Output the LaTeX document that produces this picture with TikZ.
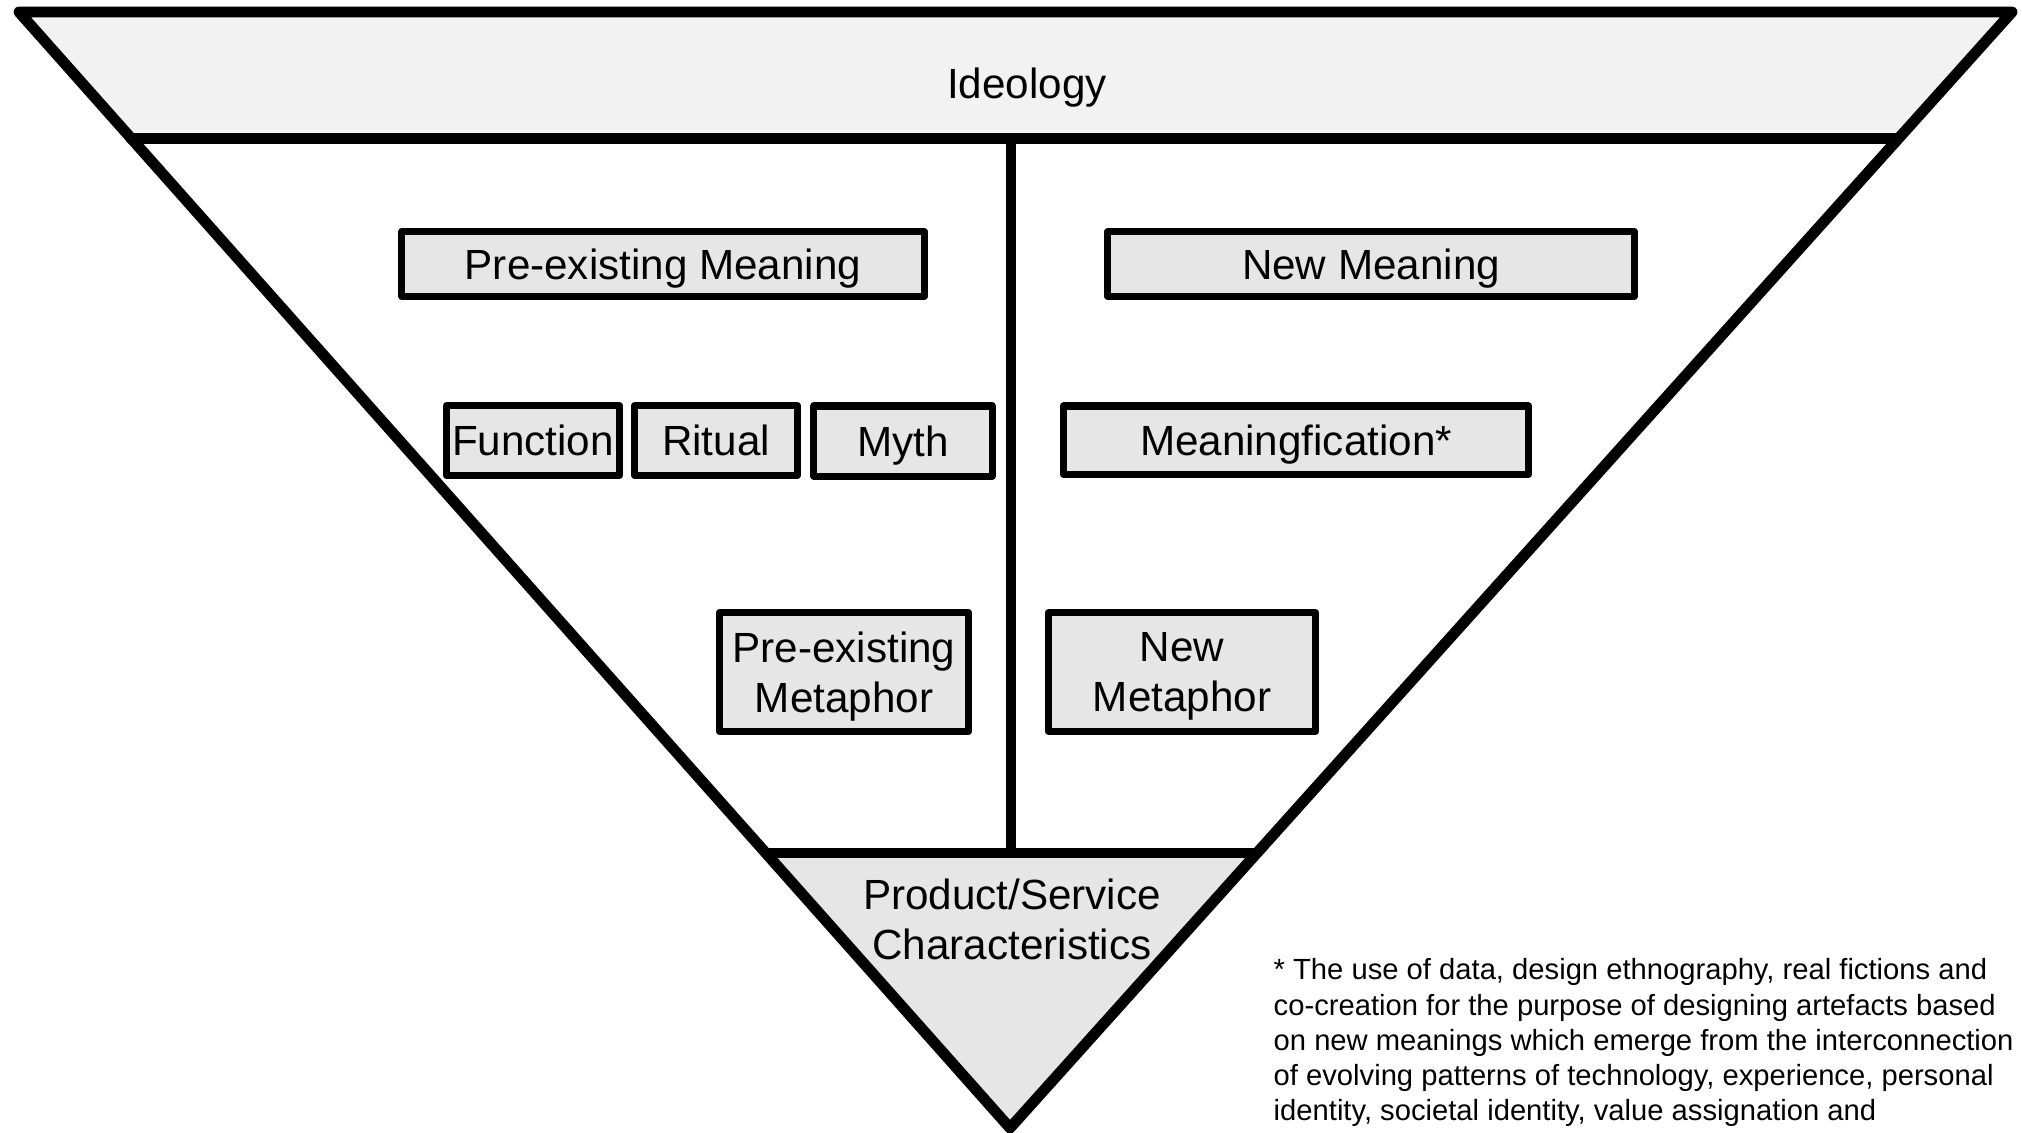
\documentclass[tikz,border=0pt]{standalone}
\usepackage{fontspec}
\setmainfont{Liberation Sans}
\definecolor{bandgray}{HTML}{F2F2F2}
\definecolor{boxgray}{HTML}{E6E6E6}
\begin{document}
\begin{tikzpicture}[x=0.01cm,y=-0.01cm,
  box/.style={draw, line width=2pt, line join=round, fill=boxgray, inner sep=0pt, align=center, text depth=0pt, font=\fontsize{12}{14.2}\selectfont},
  onebox/.style={box, text height=8.6pt},
  edge/.style={line width=3.1pt, line join=round, line cap=round}]
\useasboundingbox (0,0) rectangle (2022,1132);
\coordinate (tl) at (19,12);
\coordinate (tr) at (2012,12);
\coordinate (apex) at (1010,1128);
\coordinate (bandl) at (131,138.5);
\coordinate (bandr) at (1898,138.5);
\coordinate (basel) at (766,853);
\coordinate (baser) at (1257,853);
\coordinate (vtop) at (1011,138.5);
\coordinate (vbot) at (1011,853);
\fill[bandgray] (tl) -- (tr) -- (bandr) -- (bandl) -- cycle;
\fill[boxgray] (basel) -- (baser) -- (apex) -- cycle;
\draw[edge] (tl) -- (tr) -- (apex) -- cycle;
\draw[edge] (bandl) -- (bandr);
\draw[line width=2.8pt] (vtop) -- (vbot);
\draw[line width=2.8pt] (basel) -- (baser);
\node[text height=8.6pt, text depth=0pt, font=\fontsize{12}{14.2}\selectfont] (ideo) at (1027,83) {Ideology};
\node[onebox, minimum width=5.22cm, minimum height=0.65cm] (pmean) at (663,264) {Pre-existing Meaning};
\node[onebox, minimum width=5.26cm, minimum height=0.65cm] (nmean) at (1371,264) {New Meaning};
\node[onebox, minimum width=1.73cm, minimum height=0.70cm] (func) at (533,440.5) {Function};
\node[onebox, minimum width=1.62cm, minimum height=0.70cm] (rit) at (716,440.5) {Ritual};
\node[onebox, minimum width=1.78cm, minimum height=0.70cm] (myth) at (903,441) {Myth};
\node[onebox, minimum width=4.65cm, minimum height=0.68cm] (mfic) at (1296,440) {Meaningfication*};
\node[box, minimum width=2.49cm, minimum height=1.19cm] (pmeta) at (844,672) {Pre-existing\\Metaphor};
\node[box, minimum width=2.67cm, minimum height=1.19cm] (nmeta) at (1182,672) {New\\Metaphor};
\node[align=center, text depth=0pt, font=\fontsize{12}{14.2}\selectfont] (prod) at (1012,919) {Product/Service\\Characteristics};
\node[anchor=north west, inner sep=0pt, align=left, font=\fontsize{8.3}{10}\selectfont] (note) at (1273,958)
  {* The use of data, design ethnography, real fictions and\\
   co-creation for the purpose of designing artefacts based\\
   on new meanings which emerge from the interconnection\\
   of evolving patterns of technology, experience, personal\\
   identity, societal identity, value assignation and};
\end{tikzpicture}
\end{document}
